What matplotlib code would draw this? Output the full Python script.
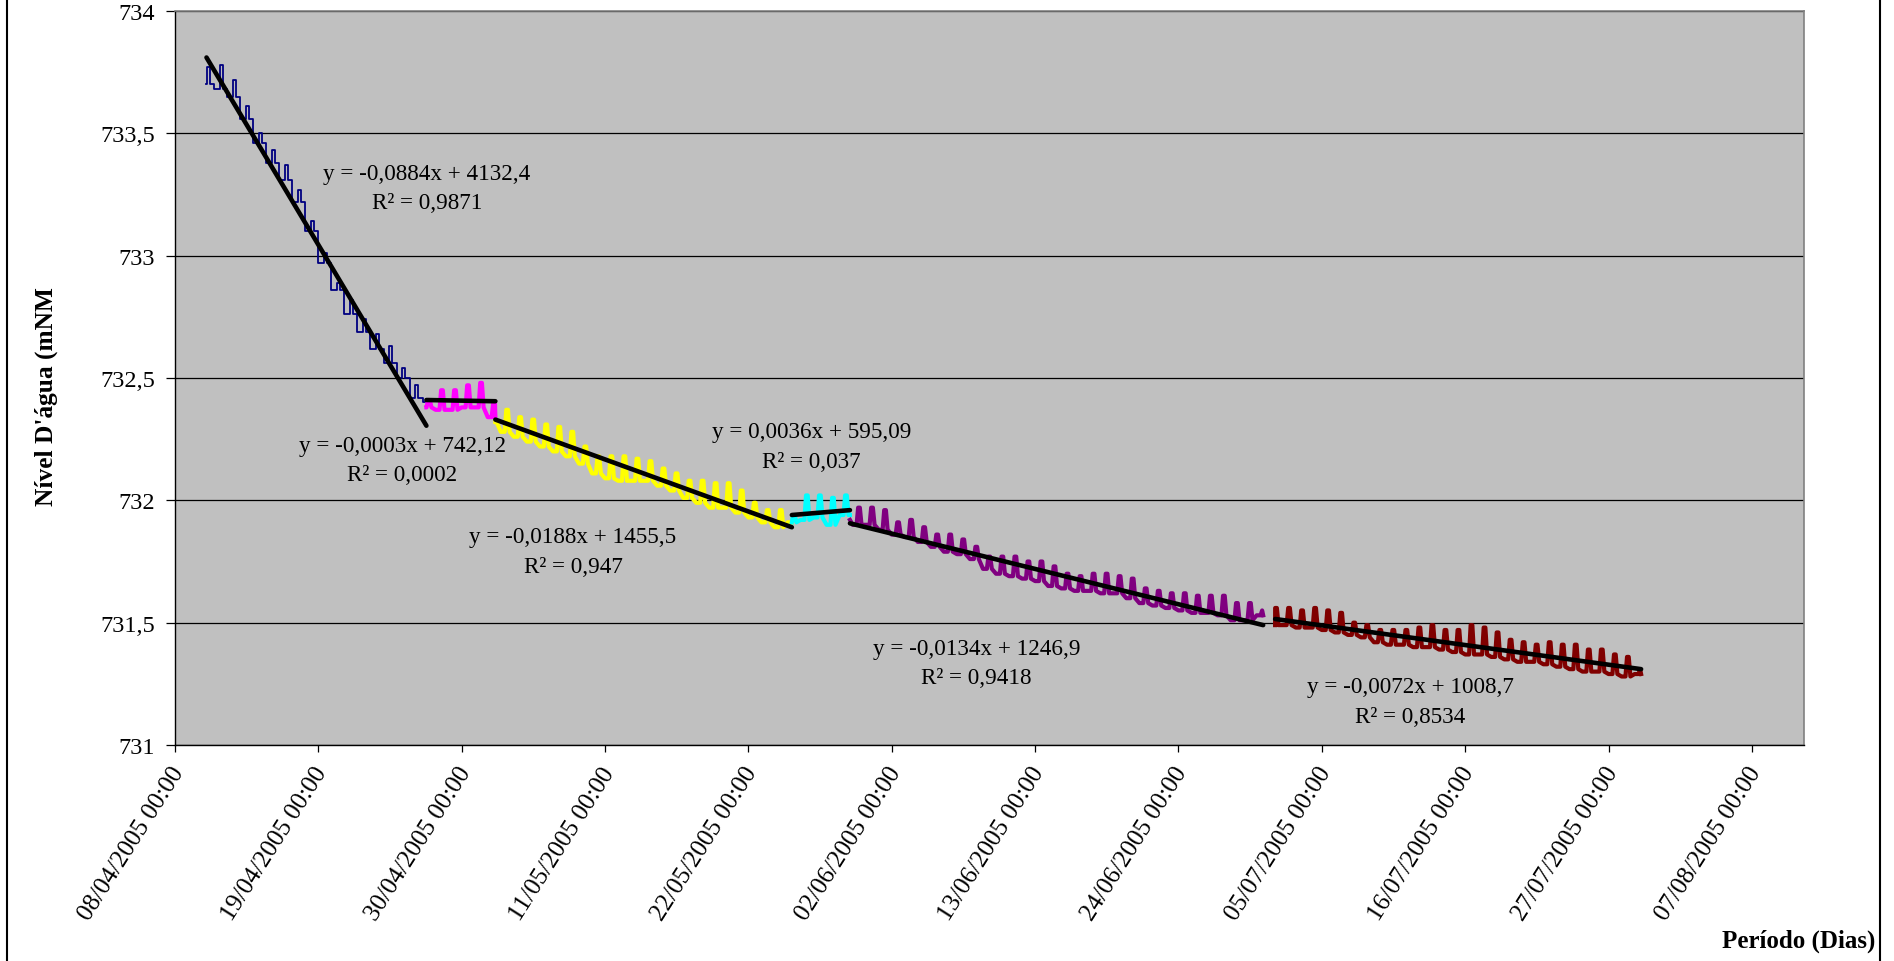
import numpy as np
import pandas as pd
import matplotlib
matplotlib.use('Agg')
import matplotlib.pyplot as plt
import matplotlib.dates as mdates
from matplotlib.lines import Line2D
from matplotlib.transforms import ScaledTranslation

# eixo y
ticks_nivel = [731, 731.5, 732, 732.5, 733, 733.5, 734]
rotulos_nivel = ['731', '731,5', '732', '732,5', '733', '733,5', '734']

# eixo x (de 11 em 11 dias)
datas_ticks = ['2005-04-08', '2005-04-19', '2005-04-30', '2005-05-11', '2005-05-22', '2005-06-02',
               '2005-06-13', '2005-06-24', '2005-07-05', '2005-07-16', '2005-07-27', '2005-08-07']
limites_x = ['2005-04-08', '2005-08-11']

# nivel minimo e maximo de cada dia (mNM)
azul_periodo = ['2005-04-10 10:00', '2005-04-27 07:00']
azul_min = [733.70, 733.68, 733.65, 733.56, 733.46, 733.38, 733.31, 733.22, 733.10,
            732.97, 732.86, 732.76, 732.69, 732.62, 732.56, 732.50, 732.42, 732.40]
azul_max = [733.77, 733.78, 733.72, 733.61, 733.50, 733.43, 733.37, 733.27, 733.14,
            733.01, 732.89, 732.82, 732.74, 732.68, 732.63, 732.54, 732.47, 732.42]

rosa_periodo = ['2005-04-27 07:00', '2005-05-02 14:00']
rosa_min = [732.38, 732.37, 732.37, 732.38, 732.38, 732.34]
rosa_max = [732.41, 732.45, 732.45, 732.47, 732.48, 732.40]

amarelo_periodo = ['2005-05-02 14:00', '2005-05-25 08:00']
amarelo_min = [732.32, 732.28, 732.26, 732.24, 732.22, 732.20, 732.18, 732.15, 732.11, 732.09,
               732.08, 732.08, 732.08, 732.06, 732.04, 732.01, 731.99, 731.97, 731.97, 731.95,
               731.93, 731.91, 731.89, 731.91]
amarelo_max = [732.36, 732.37, 732.34, 732.33, 732.31, 732.30, 732.28, 732.22, 732.18, 732.18,
               732.18, 732.17, 732.16, 732.13, 732.11, 732.08, 732.08, 732.07, 732.07, 732.04,
               731.99, 731.96, 731.96, 731.93]

ciano_periodo = ['2005-05-25 08:00', '2005-05-29 19:00']
ciano_min = [731.91, 731.92, 731.93, 731.90, 731.94]
ciano_max = [731.94, 732.02, 732.02, 732.01, 732.02]

roxo_periodo = ['2005-05-29 19:00', '2005-06-30 12:00']
roxo_min = [731.92, 731.90, 731.90, 731.88, 731.86, 731.85, 731.83, 731.81, 731.79, 731.78,
            731.76, 731.72, 731.70, 731.69, 731.68, 731.67, 731.65, 731.64, 731.63, 731.63,
            731.62, 731.62, 731.60, 731.58, 731.57, 731.56, 731.55, 731.54, 731.54, 731.53,
            731.51, 731.51, 731.53]
roxo_max = [731.95, 731.97, 731.97, 731.96, 731.91, 731.92, 731.89, 731.86, 731.86, 731.84,
            731.81, 731.77, 731.77, 731.77, 731.75, 731.75, 731.73, 731.70, 731.69, 731.70,
            731.70, 731.69, 731.68, 731.64, 731.63, 731.62, 731.62, 731.61, 731.61, 731.61,
            731.58, 731.58, 731.55]

marrom_periodo = ['2005-07-01 10:00', '2005-07-29 12:00']
marrom_min = [731.49, 731.49, 731.48, 731.48, 731.47, 731.46, 731.45, 731.44, 731.42, 731.41,
              731.41, 731.40, 731.40, 731.39, 731.38, 731.37, 731.37, 731.36, 731.35, 731.34,
              731.34, 731.33, 731.32, 731.31, 731.30, 731.30, 731.29, 731.28, 731.29]
marrom_max = [731.56, 731.56, 731.55, 731.56, 731.55, 731.54, 731.50, 731.49, 731.47, 731.47,
              731.47, 731.48, 731.49, 731.47, 731.47, 731.49, 731.48, 731.46, 731.43, 731.42,
              731.41, 731.42, 731.41, 731.41, 731.39, 731.39, 731.37, 731.36, 731.31]

# linhas de tendencia: nivel no inicio e no fim de cada periodo
tendencia_azul = [733.81, 732.305]
tendencia_rosa = [732.41, 732.405]
tendencia_amarelo = [732.33, 731.89]
tendencia_ciano = [731.94, 731.96]
tendencia_roxo = [731.906, 731.49]
tendencia_marrom = [731.515, 731.31]

equacoes = ['y = -0,0884x + 4132,4', 'y = -0,0003x + 742,12', 'y = -0,0188x + 1455,5',
            'y = 0,0036x + 595,09', 'y = -0,0134x + 1246,9', 'y = -0,0072x + 1008,7']
r2 = ['R² = 0,9871', 'R² = 0,0002', 'R² = 0,947', 'R² = 0,037', 'R² = 0,9418', 'R² = 0,8534']

# forma de cada dia: fração do dia e qual valor (0 = minimo, 1 = maximo)
formato_dia = [(0.0, 0), (0.3, 0), (0.42, 1), (0.55, 1), (0.68, 0)]


def montar_serie(periodo, minimos, maximos):
    t0 = pd.Timestamp(periodo[0])
    t1 = pd.Timestamp(periodo[1])
    dia0 = t0.normalize()
    tempos = [t0]
    niveis = [minimos[0]]
    for i in range(len(minimos)):
        dia = dia0 + pd.Timedelta(days=i)
        for frac, qual in formato_dia:
            t = dia + pd.Timedelta(days=frac)
            if t0 < t < t1:
                tempos.append(t)
                niveis.append(maximos[i] if qual else minimos[i])
    tempos.append(t1)
    niveis.append(minimos[-1])
    return mdates.date2num(tempos), niveis


plt.rcParams['font.family'] = ['Liberation Serif', 'DejaVu Serif']

fig = plt.figure(figsize=(18.94, 9.62), dpi=100)
ax = fig.add_axes([175 / 1894, 1 - 746 / 962, 1629 / 1894, 734 / 962])
ax.set_facecolor('#C0C0C0')

# (periodo, min, max, tendencia, cor, espessura, estilo de desenho)
series = [
    (azul_periodo, azul_min, azul_max, tendencia_azul, '#000080', 1.3, 'steps-post'),
    (rosa_periodo, rosa_min, rosa_max, tendencia_rosa, '#FF00FF', 3.0, 'default'),
    (amarelo_periodo, amarelo_min, amarelo_max, tendencia_amarelo, '#FFFF00', 3.0, 'default'),
    (ciano_periodo, ciano_min, ciano_max, tendencia_ciano, '#00FFFF', 3.0, 'default'),
    (roxo_periodo, roxo_min, roxo_max, tendencia_roxo, '#800080', 3.0, 'default'),
    (marrom_periodo, marrom_min, marrom_max, tendencia_marrom, '#800000', 3.0, 'default'),
]

for periodo, mn, mx, tend, cor, lw, estilo in series:
    x, y = montar_serie(periodo, mn, mx)
    ax.plot(x, y, color=cor, lw=lw, drawstyle=estilo, zorder=3)

for periodo, mn, mx, tend, cor, lw, estilo in series:
    xt = mdates.date2num([pd.Timestamp(periodo[0]), pd.Timestamp(periodo[1])])
    ax.plot(xt, tend, color='black', lw=3.3, solid_capstyle='round', zorder=4)

# rotulos das equacoes (centro x, linha de base da 1a e 2a linha)
posicoes = [('2005-04-27 08:00', 733.313, 733.195),
            ('2005-04-25 11:00', 732.203, 732.082),
            ('2005-05-08 13:00', 731.828, 731.708),
            ('2005-05-26 20:00', 732.258, 732.136),
            ('2005-06-08 12:00', 731.372, 731.253),
            ('2005-07-11 19:00', 731.215, 731.095)]
for (data, y1, y2), eq, r in zip(posicoes, equacoes, r2):
    xd = mdates.date2num(pd.Timestamp(data))
    ax.text(xd, y1, eq, ha='center', va='baseline', fontsize=16.7, zorder=5)
    ax.text(xd, y2, r, ha='center', va='baseline', fontsize=16.7, zorder=5)

ax.set_ylim(731, 734)
ax.set_yticks(ticks_nivel)
ax.set_yticklabels(rotulos_nivel, fontsize=17.5)
ax.set_xlim(mdates.date2num([pd.Timestamp(d) for d in limites_x]))
ax.set_xticks(mdates.date2num([pd.Timestamp(d) for d in datas_ticks]))
ax.xaxis.set_major_formatter(mdates.DateFormatter('%d/%m/%Y %H:%M'))
ax.yaxis.grid(True, color='black', lw=0.9)
ax.set_axisbelow(True)

ax.tick_params(axis='y', direction='out', length=6.5, width=0.9, pad=8, colors='black')
ax.tick_params(axis='x', direction='out', length=5, width=0.9, pad=12)
desloca = ScaledTranslation(3 / 72, 0, fig.dpi_scale_trans)
for rot in ax.get_xticklabels():
    rot.set_rotation(57.5)
    rot.set_ha('right')
    rot.set_va('center')
    rot.set_rotation_mode('anchor')
    rot.set_fontsize(18)
    rot.set_transform(rot.get_transform() + desloca)

for lado in ['left', 'bottom']:
    ax.spines[lado].set_color('black')
    ax.spines[lado].set_linewidth(1)
for lado in ['top', 'right']:
    ax.spines[lado].set_color('#808080')
    ax.spines[lado].set_linewidth(1.2)

fig.text(46 / 1894, 1 - 397 / 962, "Nível D'água (mNM", rotation=90, ha='center', va='center',
         fontsize=18.3, fontweight='bold')
fig.text(1875 / 1894, 1 - 948 / 962, 'Período (Dias)', ha='right', va='baseline',
         fontsize=18, fontweight='bold')

# moldura do grafico
fig.add_artist(Line2D([7 / 1894, 7 / 1894], [0, 1], transform=fig.transFigure, color='black', lw=1.5))
fig.add_artist(Line2D([1880 / 1894, 1880 / 1894], [0, 1], transform=fig.transFigure, color='black', lw=1.5))

fig.savefig('out.png', dpi=100)
